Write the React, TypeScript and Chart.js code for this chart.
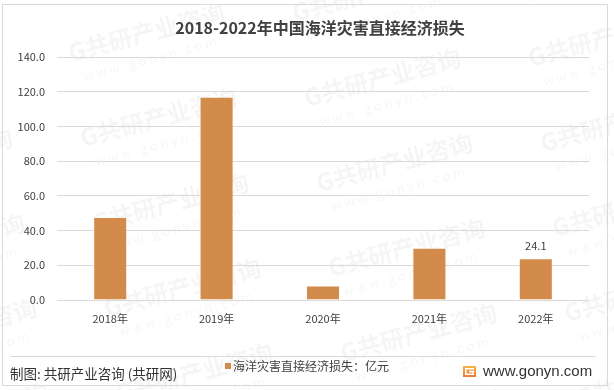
import React, { useEffect, useRef } from "react";
import { Chart, registerables } from "chart.js";

Chart.register(...registerables);

const titleText = "2018-2022年中国海洋灾害直接经济损失";
const categories = ["2018年", "2019年", "2020年", "2021年", "2022年"];
const seriesName = "海洋灾害直接经济损失：亿元";
const lossValues = [47.77, 117.03, 8.32, 30.04, 24.12];
const labeledIndexes = [4];
const yMin = 0;
const yMax = 140;
const yStep = 20;
const sourceText = "制图: 共研产业咨询 (共研网)";
const siteText = "www.gonyn.com";
const watermarkText = "G共研产业咨询";
const watermarkSub = "w w w . g o n y n . c o m";

const CJK = '"Noto Sans CJK SC", "Noto Sans", sans-serif';
const barColor = "#D38B4C";

const decorPlugin = {
  id: "decor",
  beforeDraw(chart: any) {
    const ctx = chart.ctx;
    ctx.save();
    ctx.fillStyle = "#ffffff";
    ctx.fillRect(0, 0, chart.width, chart.height);
    // faint watermark tiles
    ctx.fillStyle = "rgba(0,0,0,0.038)";
    ctx.textBaseline = "alphabetic";
    ctx.textAlign = "left";
    for (let r = -2; r <= 4; r++) {
      for (let c = -1; c <= 3; c++) {
        const x = 83 + c * 224 + r * 12;
        const y = 147 + r * 85 - c * 40;
        ctx.save();
        ctx.translate(x, y);
        ctx.rotate(-0.26);
        ctx.font = `bold 24px ${CJK}`;
        ctx.fillText(watermarkText, 0, 0);
        ctx.font = `13px ${CJK}`;
        ctx.fillText(watermarkSub, 8, 22);
        ctx.restore();
      }
    }
    // frame
    ctx.strokeStyle = "#d9d9d9";
    ctx.lineWidth = 1;
    ctx.strokeRect(2.5, 4.5, 605, 381);
    ctx.restore();
  },
  afterDraw(chart: any) {
    const ctx = chart.ctx;
    ctx.save();
    // title
    ctx.fillStyle = "#404040";
    ctx.font = `bold 16px ${CJK}`;
    ctx.textAlign = "center";
    ctx.textBaseline = "middle";
    ctx.fillText(titleText, 320, 28);

    // separator
    ctx.strokeStyle = "#d9d9d9";
    ctx.lineWidth = 1;
    ctx.beginPath();
    ctx.moveTo(10, 356.5);
    ctx.lineTo(596, 356.5);
    ctx.stroke();

    // legend
    const ds = chart.data.datasets[0];
    ctx.fillStyle = ds.backgroundColor;
    ctx.fillRect(225, 363, 6, 6);
    ctx.fillStyle = "#404040";
    ctx.font = `12px ${CJK}`;
    ctx.textAlign = "left";
    ctx.fillText(ds.label, 233, 366);

    // source
    ctx.fillStyle = "#333333";
    ctx.font = `13.5px ${CJK}`;
    ctx.fillText(sourceText, 10, 374);

    // logo
    const g = ctx.createLinearGradient(463, 366, 463, 377);
    g.addColorStop(0, "#F9B24A");
    g.addColorStop(1, "#F0783A");
    ctx.fillStyle = g;
    ctx.fillRect(463, 366, 13, 11);
    ctx.fillStyle = "#ffffff";
    ctx.fillRect(465, 368, 9, 1.5);
    ctx.fillRect(465, 368, 1.5, 7);
    ctx.fillRect(465, 373.5, 9, 1.5);
    ctx.fillRect(469, 370.8, 5, 1.5);
    ctx.fillRect(472.5, 370.8, 1.5, 4);

    // site
    ctx.fillStyle = "#333333";
    ctx.font = `15px "Liberation Sans", Arial, sans-serif`;
    ctx.fillText(siteText, 483, 372);
    ctx.restore();
  },
  afterDatasetsDraw(chart: any) {
    const ctx = chart.ctx;
    const meta = chart.getDatasetMeta(0);
    ctx.save();
    ctx.fillStyle = "#404040";
    ctx.font = `11px ${CJK}`;
    ctx.textAlign = "center";
    ctx.textBaseline = "middle";
    labeledIndexes.forEach((i) => {
      const el = meta.data[i];
      const v = chart.data.datasets[0].data[i];
      ctx.fillText(Number(v).toFixed(1), el.x, el.y - 12);
    });
    ctx.restore();
  },
};

export default function App() {
  const ref = useRef<HTMLCanvasElement>(null);
  useEffect(() => {
    const chart = new Chart(ref.current!, {
      type: "bar",
      data: {
        labels: categories,
        datasets: [
          {
            label: seriesName,
            data: lossValues,
            backgroundColor: barColor,
            borderColor: "rgba(255,255,255,0.35)",
            borderWidth: 1,
            categoryPercentage: 1,
            barPercentage: 0.32,
          },
        ],
      },
      options: {
        responsive: false,
        animation: false,
        devicePixelRatio: 1,
        layout: { padding: { left: 8, right: 25, top: 57, bottom: 60 } },
        plugins: {
          legend: { display: false },
          title: { display: false },
          tooltip: { enabled: false },
        },
        scales: {
          x: {
            grid: { display: false, drawTicks: false },
            border: { display: false },
            ticks: {
              color: "#404040",
              font: { size: 11, family: CJK },
              padding: 12,
            },
            afterFit: (s: any) => {
              s.height = 30;
            },
          },
          y: {
            min: yMin,
            max: yMax,
            grid: { color: "#d9d9d9", lineWidth: 1, drawTicks: false },
            border: { display: false },
            ticks: {
              stepSize: yStep,
              color: "#404040",
              font: { size: 11, family: CJK },
              padding: 12,
              callback: (v: any) => Number(v).toFixed(1),
            },
            afterFit: (s: any) => {
              s.width = 49;
            },
          },
        },
      },
      plugins: [decorPlugin],
    });
    return () => chart.destroy();
  }, []);
  return (
    <div style={{ position: "absolute", left: 0, top: 0, width: 614, height: 390 }}>
      <canvas ref={ref} width={614} height={390} style={{ display: "block" }} />
    </div>
  );
}
